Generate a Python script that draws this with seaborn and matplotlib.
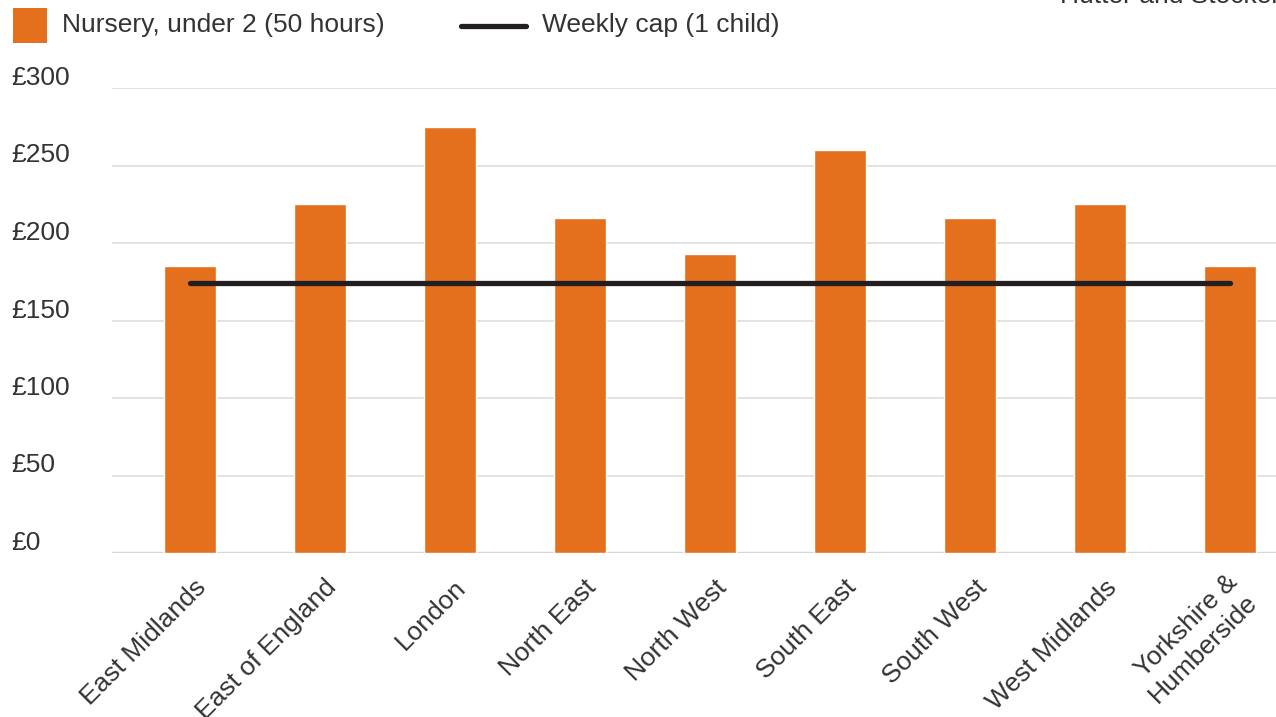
import matplotlib
matplotlib.use("Agg")
import matplotlib.pyplot as plt
import matplotlib.transforms as mtransforms
from matplotlib.patches import Rectangle
from matplotlib.lines import Line2D
import seaborn as sns
import pandas as pd

regions = ["East Midlands", "East of England", "London", "North East", "North West",
           "South East", "South West", "West Midlands", "Yorkshire &\nHumberside"]
nursery_cost = [185, 225, 275, 216, 193, 260, 216, 225, 185]
weekly_cap = [174, 174, 174, 174, 174, 174, 174, 174, 174]
y_ticks = [0, 50, 100, 150, 200, 250, 300]
y_tick_labels = ["£0", "£50", "£100", "£150", "£200", "£250", "£300"]

ORANGE = "#e4701e"
CAP_COLOR = "#231f20"
TEXT = "#333333"

sns.set_theme(style="white")
plt.rcParams["font.family"] = ["Liberation Sans", "DejaVu Sans"]

W, H = 1276, 717
fig = plt.figure(figsize=(W / 100, H / 100), dpi=100)
ax = fig.add_axes([112 / W, 1 - 553 / H, 1 - 112 / W, (553 - 88) / H])

df = pd.DataFrame({"region": regions, "cost": nursery_cost})
sns.barplot(data=df, x="region", y="cost", color=ORANGE, width=0.4,
            saturation=1, ax=ax, zorder=3)
ax.plot(range(len(regions)), weekly_cap, color=CAP_COLOR, lw=3.8,
        solid_capstyle="round", zorder=4)

ax.set_xlim(-0.6, 8.35)
ax.set_ylim(0, 300)
ax.set_yticks(y_ticks)
ax.set_yticklabels([])
ax.tick_params(axis="y", length=0)
ax.yaxis.grid(True, color="#dedede", lw=1.2, zorder=0)
ax.set_axisbelow(True)
for s in ax.spines.values():
    s.set_visible(False)
ax.axhline(0, color="#d6d6d6", lw=2.5, zorder=2)
ax.set_xlabel("")
ax.set_ylabel("")

# y labels sit above their grid lines, left-aligned at the figure edge
ylab_tf = mtransforms.blended_transform_factory(fig.transFigure, ax.transData)
lift = mtransforms.ScaledTranslation(0, 3 / 100, fig.dpi_scale_trans)
for v, lab in zip(y_ticks, y_tick_labels):
    ax.text(11 / W, v, lab, transform=ylab_tf + lift,
            ha="left", va="baseline", fontsize=19, color=TEXT)

ax.tick_params(axis="x", length=0, pad=6)
for lab in ax.get_xticklabels():
    two_line = "\n" in lab.get_text()
    dx, dy = (-5, -9) if two_line else (4, -14)
    lab.set_rotation(45)
    lab.set_ha("right")
    lab.set_va("top")
    lab.set_rotation_mode("anchor")
    lab.set_multialignment("right")
    lab.set_fontsize(19)
    lab.set_color(TEXT)
    lab.set_transform(lab.get_transform()
                      + mtransforms.ScaledTranslation(dx / 100, dy / 100, fig.dpi_scale_trans))

# legend row
fig.add_artist(Rectangle((13 / W, 1 - 43 / H), 34 / W, 35 / H, transform=fig.transFigure,
                         facecolor=ORANGE, edgecolor="none"))
fig.text(62 / W, 1 - 25 / H, "Nursery, under 2 (50 hours)", ha="left", va="center",
         fontsize=19, color=TEXT)
fig.add_artist(Line2D([461 / W, 526 / W], [1 - 26 / H, 1 - 26 / H], transform=fig.transFigure,
                      color=CAP_COLOR, lw=3.8, solid_capstyle="round"))
fig.text(542 / W, 1 - 25 / H, "Weekly cap (1 child)", ha="left", va="center",
         fontsize=19, color=TEXT)

# credit line, partly above the top edge
fig.text(1060 / W, 1 - 3 / H, "Hutter and Stocker", ha="left", va="baseline",
         fontsize=19, color=TEXT)

fig.savefig("out.png", dpi=100, facecolor="white")
